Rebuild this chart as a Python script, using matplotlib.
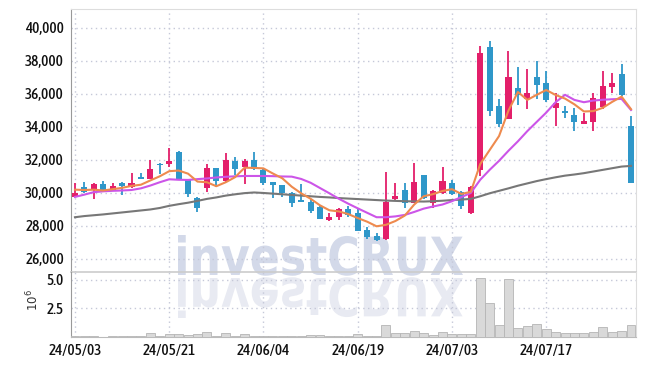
import numpy as np
import matplotlib
matplotlib.use('Agg')
import matplotlib.pyplot as plt
from matplotlib.textpath import TextPath
from matplotlib.font_manager import FontProperties, fontManager
from matplotlib.patches import PathPatch
from matplotlib.transforms import Affine2D, IdentityTransform
from matplotlib.ticker import FuncFormatter

# 일봉 데이터 (2024/05/03 ~ 2024/07/30)
opens = [29780, 30350, 30180, 30550, 30180, 30620, 30380, 30970, 30870, 31780,
         31740, 32480, 30790, 29680, 30320, 31510, 30750, 31940, 31600, 32000,
         31390, 30670, 30490, 30020, 29570, 29450, 29130, 28360, 28560, 29010,
         28800, 27760, 27390, 27210, 29630, 30180, 29380, 31090, 29410, 30020,
         30620, 30040, 28770, 31390, 38830, 35270, 34500, 36360, 35720, 37050,
         36650, 35170, 34970, 34730, 34160, 34280, 35190, 36410, 37210, 34060]
highs = [30610, 30650, 30620, 30710, 30590, 30690, 31200, 31200, 32000, 31800,
         32710, 32520, 30830, 29780, 31760, 31510, 32440, 32200, 32060, 32500,
         31500, 30670, 30490, 30080, 30550, 29620, 29210, 28800, 29070, 29210,
         29000, 27960, 27560, 31250, 30620, 30590, 31800, 31090, 30180, 31560,
         30790, 30100, 30400, 38910, 39190, 35680, 38590, 37620, 37500, 38020,
         37410, 36080, 35270, 35170, 34870, 36040, 37410, 37250, 37820, 34670]
lows = [29760, 29980, 29620, 30040, 30150, 29880, 30290, 30830, 30850, 31130,
        31600, 30800, 29740, 28870, 30080, 30380, 30690, 31090, 30550, 31400,
        30500, 29680, 29780, 29170, 29470, 28770, 28440, 28300, 28360, 28560,
        27700, 27190, 27100, 27150, 29540, 29070, 29380, 29620, 29070, 29940,
        29880, 29010, 28710, 31030, 34670, 34020, 34500, 35330, 35070, 35680,
        35500, 34060, 34530, 33760, 34160, 33760, 35070, 36080, 35900, 30590]
closes = [30020, 30040, 30550, 30140, 30420, 30420, 30620, 30870, 31440, 31700,
          31940, 30830, 29920, 29070, 31500, 30750, 32000, 31470, 31940, 31440,
          30600, 30470, 30020, 29370, 29470, 28930, 28440, 28560, 29010, 28670,
          27710, 27350, 27150, 29470, 29820, 29380, 30670, 29680, 30120, 30730,
          29940, 29210, 30350, 38500, 34990, 34180, 37010, 35940, 36080, 36550,
          35640, 35470, 34870, 34320, 34380, 35740, 36480, 36670, 35940, 30590]

# 이동평균선
ma5 = [30200, 30180, 30200, 30150, 30230, 30310, 30430, 30500, 30760, 31010,
       31320, 31360, 31170, 30690, 30650, 30410, 30650, 30960, 31530, 31520,
       31490, 31180, 30890, 30380, 29980, 29650, 29250, 28950, 28880, 28720,
       28480, 28260, 27980, 28070, 28300, 28630, 29300, 29800, 29930, 30120,
       30230, 29940, 30070, 31750, 32600, 33450, 35000, 36120, 35640, 35950,
       36240, 35940, 35720, 35370, 34940, 34960, 35160, 35520, 35840, 35080]
ma20 = [29760, 29900, 30050, 30100, 30130, 30150, 30180, 30280, 30450, 30650,
        30830, 30800, 30790, 30840, 30880, 30940, 30980, 31010, 31030, 31030,
        31030, 31020, 31000, 30990, 30850, 30620, 30300, 29980, 29650, 29350,
        29070, 28800, 28530, 28530, 28580, 28670, 28850, 29050, 29180, 29300,
        29500, 29750, 30000, 30800, 31400, 31950, 32560, 33130, 33750, 34310,
        34870, 35500, 35950, 35640, 35500, 35600, 35650, 35680, 35700, 35030]
ma60 = [28530, 28600, 28650, 28700, 28760, 28820, 28880, 28940, 29000, 29090,
        29220, 29320, 29410, 29520, 29640, 29730, 29840, 29920, 29990, 30030,
        30000, 29960, 29920, 29880, 29840, 29800, 29760, 29730, 29690, 29660,
        29630, 29600, 29570, 29540, 29520, 29500, 29490, 29480, 29500, 29530,
        29570, 29600, 29640, 29800, 29980, 30130, 30280, 30440, 30580, 30720,
        30840, 30950, 31050, 31120, 31200, 31300, 31400, 31500, 31600, 31640]

# 거래량 (백만주)
volume = [0.05, 0.05, 0.06, 0.04, 0.05, 0.05, 0.06, 0.05, 0.32, 0.08,
          0.22, 0.22, 0.20, 0.22, 0.48, 0.12, 0.37, 0.10, 0.23, 0.08,
          0.08, 0.06, 0.07, 0.10, 0.08, 0.20, 0.20, 0.10, 0.08, 0.08,
          0.26, 0.12, 0.10, 1.03, 0.34, 0.34, 0.54, 0.34, 0.17, 0.40,
          0.26, 0.26, 0.26, 5.14, 2.99, 1.09, 5.06, 0.83, 0.95, 1.18,
          0.69, 0.43, 0.34, 0.34, 0.34, 0.43, 0.86, 0.43, 0.52, 1.09]

tick_pos = [0, 10, 20, 30, 40, 50]
tick_labels = ['24/05/03', '24/05/21', '24/06/04', '24/06/19', '24/07/03', '24/07/17']

UP = '#e31f6a'
DOWN = '#2f97c9'
GRID = '#c5c8d8'


def pick_narrow_font():
    # 설치된 글꼴 중 좁은(condensed) 글꼴을 고른다
    best, best_score = None, -1
    for f in fontManager.ttflist:
        name = (f.fname + ' ' + f.name).lower()
        if not any(k in name for k in ('condensed', 'narrow', 'semicondensed')):
            continue
        if 'extracondensed' in name or 'ultracondensed' in name or 'italic' in name or 'oblique' in name:
            continue
        score = 1
        if 'semibold' in name or 'medium' in name:
            score += 4
        elif 'bold' in name and 'extrabold' not in name:
            score += 3
        if 'semicondensed' in name:
            score -= 1
        if score > best_score:
            best, best_score = f, score
    if best is not None:
        return FontProperties(fname=best.fname, size=11)
    return FontProperties(family='Roboto', weight='medium', size=8.8)


label_font = pick_narrow_font()

fig = plt.figure(figsize=(6.45, 3.66), dpi=100)
ax = fig.add_axes([71/645, 1 - 272/366, 565/645, 263/366])
axv = fig.add_axes([71/645, 1 - 337/366, 565/645, 65/366], sharex=ax)
for a in (ax, axv):
    a.set_facecolor('none')

x = np.arange(len(closes))
o = np.array(opens); c = np.array(closes)
colors = [UP if cc >= oo else DOWN for oo, cc in zip(o, c)]
bottoms = np.minimum(o, c)
heights = np.maximum(np.abs(c - o), 40)

ax.vlines(x, lows, highs, colors=colors, lw=1.3, zorder=3)
ax.bar(x, heights, 0.64, bottom=bottoms, color=colors, lw=0, zorder=4)
ax.plot(x, ma60, color='#777777', lw=1.5, zorder=5)
ax.plot(x, ma20, color='#cc55e8', lw=1.5, zorder=5)
ax.plot(x, ma5, color='#ee8a4e', lw=1.5, zorder=6)

ax.set_xlim(-0.42, 59.53)
ax.set_ylim(25210, 41150)
ax.set_yticks([26000, 28000, 30000, 32000, 34000, 36000, 38000, 40000])
ax.yaxis.set_major_formatter(FuncFormatter(lambda v, p: f'{int(v):,}'))

axv.bar(x, volume, 0.95, color='#d9d9d9', edgecolor='#b5b5b5', lw=0.6, zorder=3)
axv.set_ylim(0, 5.69)
axv.set_yticks([2.5, 5.0])
axv.set_yticklabels(['2.5', '5.0'])
axv.set_xticks(tick_pos)
axv.set_xticklabels(tick_labels)

for a in (ax, axv):
    a.grid(True, color=GRID, ls=(0, (1, 2.5)), lw=1.0, zorder=1)
    a.tick_params(length=0, colors='#111111', pad=5)
    for lab in a.get_yticklabels() + a.get_xticklabels():
        lab.set_fontproperties(label_font)
    a.spines['left'].set_color('#999999')
    a.spines['right'].set_color('#dddddd')
    a.spines['top'].set_color('#dddddd')
    a.spines['bottom'].set_color('#bbbbbb')
ax.spines['bottom'].set_color('#cccccc')
ax.spines['bottom'].set_linewidth(1.2)
axv.spines['top'].set_visible(False)
plt.setp(ax.get_xticklabels(), visible=False)

fig.text(33/645, 1 - 300/366, r'$10^{6}$', rotation=90, ha='center', va='center',
         fontsize=8.5, color='#333333', family='DejaVu Sans')

# 워터마크
tp = TextPath((0, 0), 'investCRUX', size=50,
              prop=FontProperties(family='DejaVu Sans', weight='bold'))
bb = tp.get_extents()
sx = 285 / bb.width
sy = 40 / (bb.height + bb.y0)
base = 366 - 275
tr_main = Affine2D().translate(-bb.x0, 0).scale(sx, sy).translate(178, base)
tr_refl = Affine2D().translate(-bb.x0, 0).scale(sx, -sy).translate(178, base - 3)
fig.patches.append(PathPatch(tr_main.transform_path(tp), transform=IdentityTransform(),
                             facecolor='#d3d9e9', lw=0, zorder=-1, figure=fig))
fig.patches.append(PathPatch(tr_refl.transform_path(tp), transform=IdentityTransform(),
                             facecolor='#e8eaf2', lw=0, zorder=-1, figure=fig))

fig.savefig('out.png', dpi=100)
